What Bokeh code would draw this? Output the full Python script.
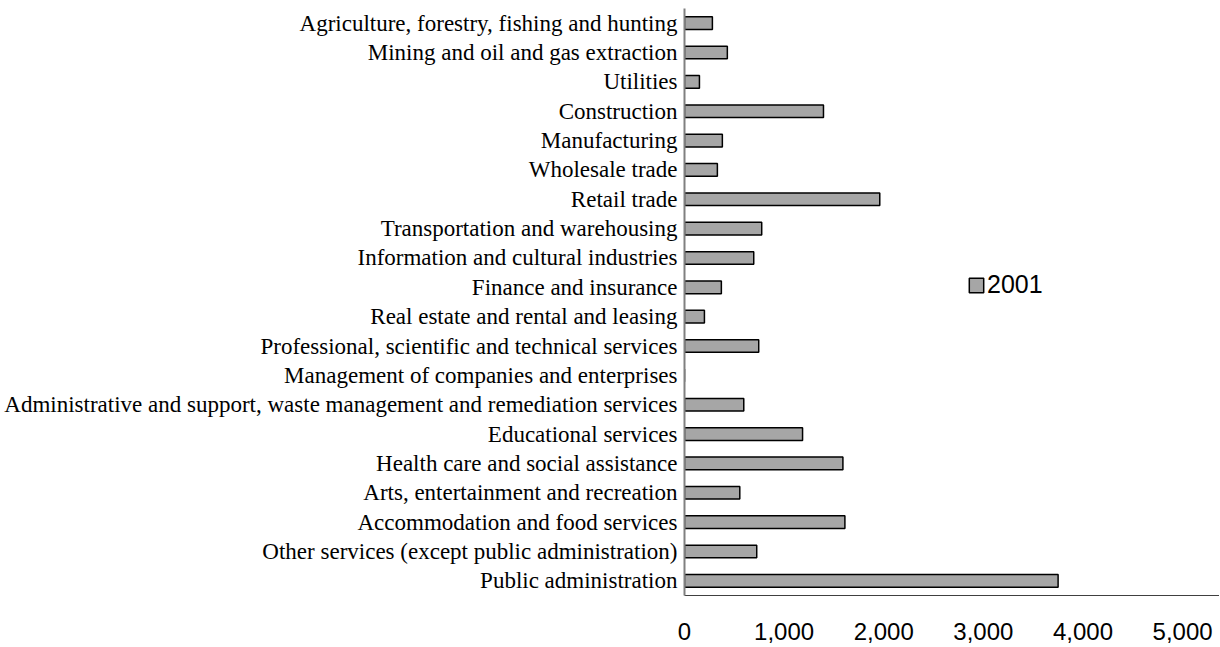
from bokeh.plotting import figure
from bokeh.models import FactorRange, Range1d, Legend, LegendItem, NumeralTickFormatter, FixedTicker
from bokeh.embed import file_html
from bokeh.resources import INLINE

industries = [
    "Agriculture, forestry, fishing and hunting",
    "Mining and oil and gas extraction",
    "Utilities",
    "Construction",
    "Manufacturing",
    "Wholesale trade",
    "Retail trade",
    "Transportation and warehousing",
    "Information and cultural industries",
    "Finance and insurance",
    "Real estate and rental and leasing",
    "Professional, scientific and technical services",
    "Management of companies and enterprises",
    "Administrative and support, waste management and remediation services",
    "Educational services",
    "Health care and social assistance",
    "Arts, entertainment and recreation",
    "Accommodation and food services",
    "Other services (except public administration)",
    "Public administration",
]
values_2001 = [280, 430, 150, 1395, 380, 330, 1960, 775, 695, 370, 200,
               745, 0, 595, 1185, 1590, 555, 1610, 725, 3750]
x_ticks = [0, 1000, 2000, 3000, 4000, 5000]
series_name = "2001"

p = figure(
    width=1219, height=646,
    y_range=FactorRange(factors=list(reversed(industries)), range_padding=0),
    x_range=Range1d(0, 5370),
    output_backend="svg", toolbar_location=None,
    min_border_left=684, min_border_top=8, min_border_right=0, min_border_bottom=51,
)
p.outline_line_color = None
p.xgrid.grid_line_color = None
p.ygrid.grid_line_color = None

r = p.hbar(y=industries, right=values_2001, left=0, height=0.43,
           fill_color="#a6a6a6", line_color="#000000", line_width=1.5)

# y axis
p.yaxis.axis_line_color = "#808080"
p.yaxis.axis_line_width = 2
p.yaxis.major_tick_line_color = None
p.yaxis.minor_tick_line_color = None
p.yaxis.major_tick_in = 0
p.yaxis.major_tick_out = 0
p.yaxis.major_label_standoff = 7
p.yaxis.major_label_text_font = "Liberation Serif"
p.yaxis.major_label_text_font_size = "23px"
p.yaxis.major_label_text_color = "#000000"

# x axis
p.xaxis.ticker = FixedTicker(ticks=x_ticks)
p.xaxis.formatter = NumeralTickFormatter(format="0,0")
p.xaxis.axis_line_color = "#404040"
p.xaxis.axis_line_width = 1
p.xaxis.major_tick_line_color = None
p.xaxis.minor_tick_line_color = None
p.xaxis.major_tick_in = 0
p.xaxis.major_tick_out = 0
p.xaxis.major_label_standoff = 27
p.xaxis.major_label_text_font = "Liberation Sans"
p.xaxis.major_label_text_font_size = "24px"
p.xaxis.major_label_text_color = "#000000"

legend = Legend(items=[LegendItem(label=series_name, renderers=[r])],
                location=(283, 296), orientation="vertical",
                border_line_color=None, background_fill_color=None,
                padding=0, margin=0, spacing=0,
                glyph_width=18, glyph_height=18, label_height=18,
                label_standoff=2,
                label_text_font="Liberation Sans", label_text_font_size="25px",
                label_text_color="#000000")
p.add_layout(legend, "center")

open("out.html", "w").write(file_html(p, INLINE))
